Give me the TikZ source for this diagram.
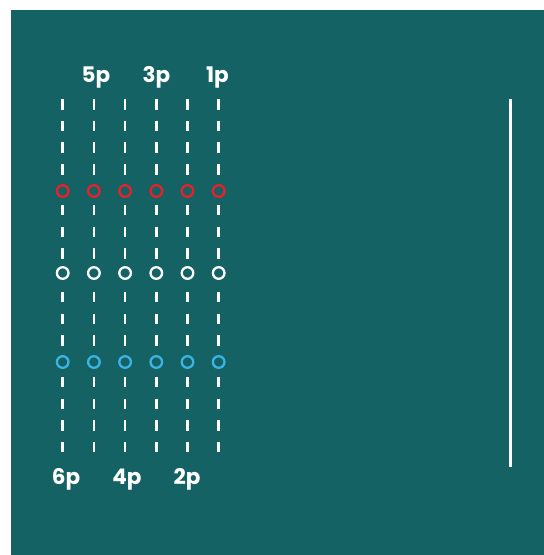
\documentclass[tikz,border=0pt]{standalone}
\usepackage{fontspec}
\setmainfont{Poppins}[BoldFont={Poppins Bold}]
\definecolor{tealbg}{RGB}{20,98,100}
\definecolor{dotred}{RGB}{232,32,42}
\definecolor{dotblue}{RGB}{59,180,229}
\begin{document}
\begin{tikzpicture}[x=1pt,y=-1pt,
  ring/.style={circle,draw=#1,line width=2.3pt,minimum size=11.6pt,inner sep=0pt,fill=tealbg},
  dashline/.style={draw=white,line width=2.6pt,dash pattern=on 10.5pt off 11.2pt},
  lbl/.style={text=white,font=\bfseries\fontsize{21.5}{22}\selectfont,anchor=base,inner sep=0pt}]
\useasboundingbox (0,0) rectangle (544,555);
\fill[white] (0,0) rectangle (544,555);
\fill[tealbg] (11,10) rectangle (544,555);
\foreach \i in {1,...,6}{
  \pgfmathsetmacro{\xx}{62.7+31.2*(\i-1)}
  \coordinate (t\i) at (\xx,99);
  \coordinate (b\i) at (\xx,452);
  \node[ring=dotred] (r\i) at (\xx,191) {};
  \node[ring=white] (w\i) at (\xx,273) {};
  \node[ring=dotblue] (u\i) at (\xx,362) {};
  \draw[dashline] (t\i) -- (r\i);
  \draw[dashline,shorten <=7pt] (r\i) -- (w\i);
  \draw[dashline,shorten <=12pt] (w\i) -- (u\i);
  \draw[dashline,shorten <=8pt] (u\i) -- (b\i);
}
\node[lbl] (l5) at (96,82) {5p};
\node[lbl] (l3) at (156.5,82) {3p};
\node[lbl] (l1) at (217.5,82) {1p};
\node[lbl] (l6) at (66,484) {6p};
\node[lbl] (l4) at (127,484) {4p};
\node[lbl] (l2) at (187,484) {2p};
\coordinate (vt) at (510.5,99);
\coordinate (vb) at (510.5,467);
\draw[white,line width=2.8pt] (vt) -- (vb);
\end{tikzpicture}
\end{document}
